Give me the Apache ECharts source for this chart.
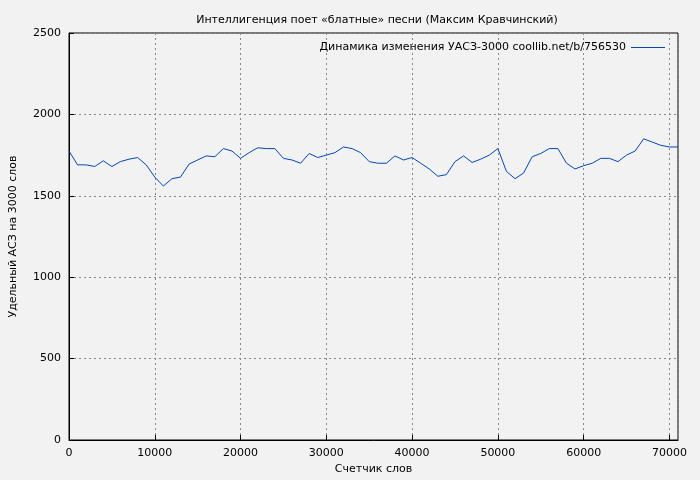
<!DOCTYPE html><html><head><meta charset="utf-8">
<script src="https://cdn.jsdelivr.net/npm/echarts@6/dist/echarts.min.js"></script>
<style>html,body{margin:0;background:#f2f2f2}#c{width:700px;height:480px}</style></head><body><div id="c"></div>
<script>
const xs=[];for(let i=0;i<=71;i++)xs.push(i*1000);
const vals=[1775,1690,1690,1680,1715,1680,1710,1725,1735,1690,1615,1560,1605,1615,1695,1720,1745,1740,1790,1775,1730,1765,1795,1790,1790,1730,1720,1700,1760,1735,1750,1765,1800,1790,1765,1710,1700,1700,1745,1720,1735,1700,1665,1620,1630,1710,1745,1705,1725,1750,1790,1650,1605,1640,1740,1760,1790,1790,1700,1665,1685,1700,1730,1730,1710,1750,1775,1850,1830,1810,1800,1800];
const F='DejaVu Sans';
const c=echarts.init(document.getElementById('c'));
c.setOption({backgroundColor:'#f2f2f2',animation:false,
title:{text:'Интеллигенция поет «блатные» песни (Максим Кравчинский)',left:372,textAlign:'center',top:10,textStyle:{fontFamily:F,fontSize:11,fontWeight:'normal',color:'#000'}},
legend:{show:true,right:30,top:37,itemWidth:34,itemHeight:1,icon:'rect',align:'right',textStyle:{fontFamily:F,fontSize:11,color:'#000'},data:['Динамика изменения УАСЗ-3000 coollib.net/b/756530']},
grid:{left:67,right:22,top:33,bottom:40,show:true,borderColor:'#000',borderWidth:1,backgroundColor:'transparent'},
xAxis:{type:'value',min:0,max:71000,interval:10000,axisLine:{lineStyle:{color:'#000'}},axisTick:{inside:true,lineStyle:{color:'#000'}},axisLabel:{fontFamily:F,fontSize:11,color:'#000',showMaxLabel:false,formatter:v=>String(v)},splitLine:{lineStyle:{color:'#888',type:[2,3]}},name:'Счетчик слов',nameLocation:'middle',nameGap:24,nameTextStyle:{fontFamily:F,fontSize:11,color:'#000'}},
yAxis:{type:'value',min:0,max:2500,interval:500,axisLine:{show:true,lineStyle:{color:'#000'}},axisTick:{show:true,inside:true,lineStyle:{color:'#000'}},axisLabel:{fontFamily:F,fontSize:11,color:'#000',formatter:v=>String(v)},splitLine:{lineStyle:{color:'#888',type:[2,3]}},name:'Удельный АСЗ на 3000 слов',nameLocation:'middle',nameGap:50,nameTextStyle:{fontFamily:F,fontSize:11,color:'#000'}},
series:[{name:'Динамика изменения УАСЗ-3000 coollib.net/b/756530',type:'line',showSymbol:false,lineStyle:{width:1,color:'#0046c0'},itemStyle:{color:'#0046c0'},data:xs.map((x,i)=>[x,vals[i]])}]
});
</script></body></html>
